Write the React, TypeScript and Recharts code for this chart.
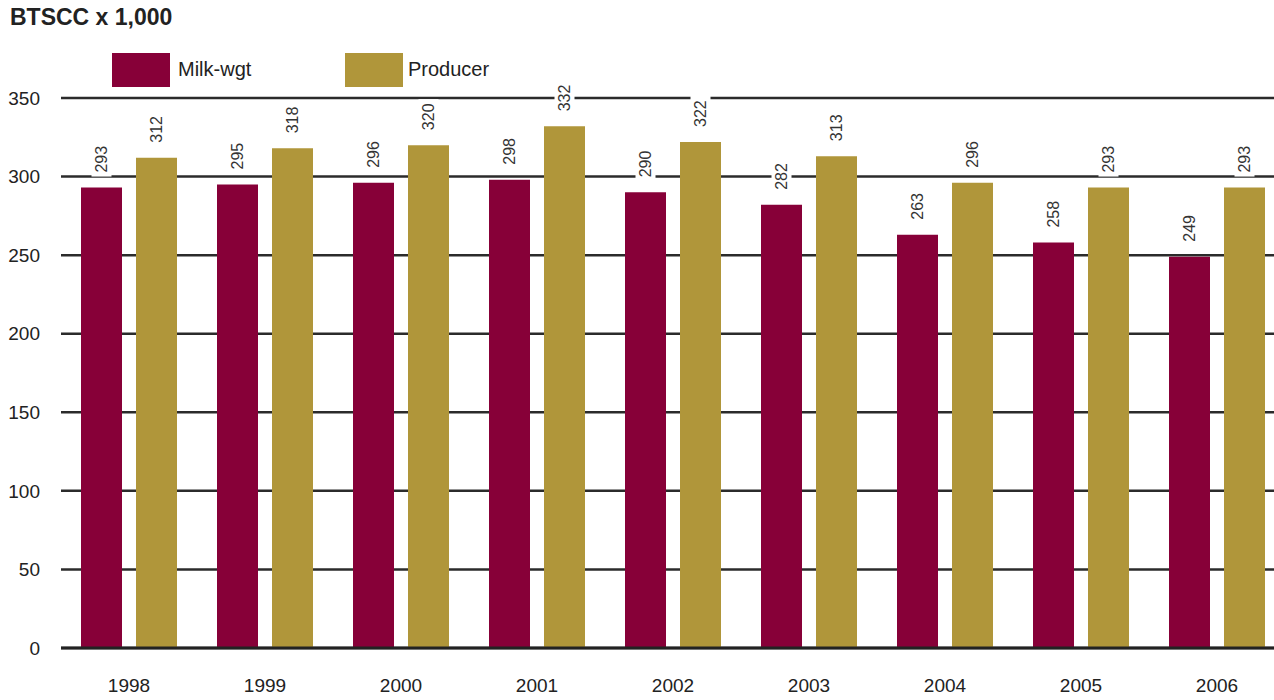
import { Bar, BarChart, CartesianGrid, LabelList, XAxis, YAxis } from "recharts";

const years = ["1998", "1999", "2000", "2001", "2002", "2003", "2004", "2005", "2006"];
const milkWgt = [293, 295, 296, 298, 290, 282, 263, 258, 249];
const producer = [312, 318, 320, 332, 322, 313, 296, 293, 293];
const yTicks = [0, 50, 100, 150, 200, 250, 300, 350];

const MAROON = "#870038";
const GOLD = "#B0963A";
const FONT = "'Liberation Sans', Arial, sans-serif";

const data = years.map((year, i) => ({ year, milk: milkWgt[i], producer: producer[i] }));

function ValueLabel(props: any) {
  const { x, y, width, value } = props;
  const cx = x + width / 2;
  const by = y - 15;
  return (
    <g>
      <rect x={cx - 10} y={by - 31} width={20} height={35} fill="#fff" />
      <text
        x={cx}
        y={by}
        transform={`rotate(-90 ${cx} ${by})`}
        textAnchor="start"
        dominantBaseline="central"
        fontSize={16}
        fontFamily={FONT}
        fill="#333"
      >
        {value}
      </text>
    </g>
  );
}

export default function App() {
  return (
    <div
      style={{
        position: "absolute",
        left: 0,
        top: 0,
        width: 1274,
        height: 700,
        overflow: "hidden",
        background: "#fff",
        fontFamily: FONT,
        color: "#222",
      }}
    >
      <div style={{ position: "absolute", left: 10, top: 4, fontSize: 23, fontWeight: "bold" }}>BTSCC x 1,000</div>
      <div style={{ position: "absolute", left: 112, top: 53, width: 58, height: 34, background: MAROON }} />
      <div style={{ position: "absolute", left: 178, top: 58, fontSize: 20 }}>Milk-wgt</div>
      <div style={{ position: "absolute", left: 345, top: 53, width: 58, height: 34, background: GOLD }} />
      <div style={{ position: "absolute", left: 408, top: 58, fontSize: 20 }}>Producer</div>
      <div style={{ position: "absolute", left: 0, top: 0 }}>
        <BarChart
          width={1285}
          height={700}
          data={data}
          margin={{ top: 98, right: 0, left: 0, bottom: 0 }}
          barSize={41}
          barGap={14}
        >
          <CartesianGrid vertical={false} stroke="#2b2b2b" strokeWidth={2.5} />
          <XAxis
            dataKey="year"
            height={52}
            tickLine={false}
            axisLine={{ stroke: "#222", strokeWidth: 3 }}
            tickMargin={25}
            tick={{ fill: "#222", fontSize: 19, fontFamily: FONT }}
          />
          <YAxis
            width={61}
            domain={[0, 350]}
            ticks={yTicks}
            interval={0}
            tickLine={false}
            axisLine={false}
            tickMargin={15}
            tick={{ fill: "#222", fontSize: 19, fontFamily: FONT }}
          />
          <Bar dataKey="milk" fill={MAROON} isAnimationActive={false}>
            <LabelList dataKey="milk" content={ValueLabel} />
          </Bar>
          <Bar dataKey="producer" fill={GOLD} isAnimationActive={false}>
            <LabelList dataKey="producer" content={ValueLabel} />
          </Bar>
        </BarChart>
      </div>
    </div>
  );
}
